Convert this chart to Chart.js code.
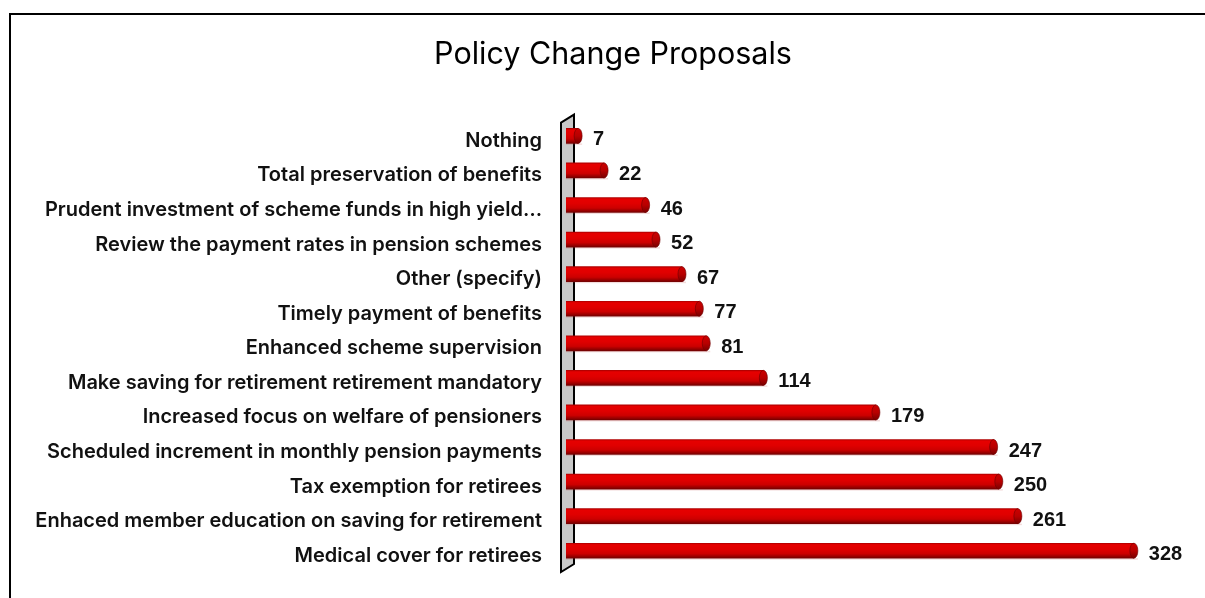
<!DOCTYPE html>
<html>
<head>
<meta charset="utf-8">
<style>
  html, body { margin: 0; padding: 0; background: #ffffff; }
  #wrap { width: 1205px; height: 598px; position: relative; }
</style>
<script src="https://cdn.jsdelivr.net/npm/chart.js@4.4.1/dist/chart.umd.min.js"></script>
</head>
<body>
<div id="wrap"><canvas id="chart" width="1205" height="598"></canvas></div>
<script>
// Responses, listed top to bottom as they appear on the chart
const categories = [
  "Nothing",
  "Total preservation of benefits",
  "Prudent investment of scheme funds in high yield…",
  "Review the payment rates in pension schemes",
  "Other (specify)",
  "Timely payment of benefits",
  "Enhanced scheme supervision",
  "Make saving for retirement retirement mandatory",
  "Increased focus on welfare of pensioners",
  "Scheduled increment in monthly pension payments",
  "Tax exemption for retirees",
  "Enhaced member education on saving for retirement",
  "Medical cover for retirees"
];
const counts = [7, 22, 46, 52, 67, 77, 81, 114, 179, 247, 250, 261, 328];
const chartTitle = "Policy Change Proposals";

const LABEL_FONT = "Inter, 'Open Sans', 'Liberation Sans', sans-serif";
const VALUE_FONT = "'Liberation Sans', Arial, sans-serif";

// Cylinder shading across the bar thickness
function cylinderGradient(ctx, top, bottom) {
  const g = ctx.createLinearGradient(0, top, 0, bottom);
  g.addColorStop(0.00, '#b00000');
  g.addColorStop(0.10, '#e60000');
  g.addColorStop(0.40, '#e00000');
  g.addColorStop(0.70, '#cc0000');
  g.addColorStop(0.90, '#940000');
  g.addColorStop(1.00, '#700000');
  return g;
}

// Frame around the chart
const framePlugin = {
  id: 'frame',
  afterDraw(chart) {
    const ctx = chart.ctx;
    ctx.save();
    ctx.strokeStyle = '#000000';
    ctx.lineWidth = 2;
    ctx.beginPath();
    ctx.moveTo(10, 620);
    ctx.lineTo(10, 14);
    ctx.lineTo(1230, 14);
    ctx.stroke();
    ctx.restore();
  }
};

// Thin 3D back wall standing behind the bar bases
const wallPlugin = {
  id: 'wall',
  beforeDatasetsDraw(chart) {
    const { ctx, chartArea } = chart;
    const x0 = chart.scales.x.getPixelForValue(0);
    const left = x0 - 5, right = x0 + 8, skew = 4;
    ctx.save();
    ctx.beginPath();
    ctx.moveTo(left, chartArea.top + skew);
    ctx.lineTo(right, chartArea.top - skew);
    ctx.lineTo(right, chartArea.bottom - skew);
    ctx.lineTo(left, chartArea.bottom + skew);
    ctx.closePath();
    ctx.fillStyle = '#c8c8c8';
    ctx.fill();
    ctx.strokeStyle = '#000000';
    ctx.lineWidth = 2;
    ctx.lineJoin = 'miter';
    ctx.stroke();
    ctx.restore();
  }
};

// End caps for the cylinders and the value labels beside them
const capsPlugin = {
  id: 'caps',
  afterDatasetsDraw(chart) {
    const ctx = chart.ctx;
    const meta = chart.getDatasetMeta(0);
    ctx.save();
    meta.data.forEach((bar, i) => {
      const h = bar.height;
      const top = bar.y - h / 2, bottom = bar.y + h / 2;
      const rx = 4;
      // faint shadow line under the bar
      ctx.fillStyle = 'rgba(190, 60, 60, 0.18)';
      ctx.fillRect(bar.base, bottom, bar.x - bar.base + rx, 1.5);
      // cap face
      ctx.beginPath();
      ctx.ellipse(bar.x, bar.y, rx, h / 2, 0, 0, Math.PI * 2);
      const g = ctx.createLinearGradient(0, top, 0, bottom);
      g.addColorStop(0, '#cc0000');
      g.addColorStop(0.5, '#b80000');
      g.addColorStop(1, '#7a0000');
      ctx.fillStyle = g;
      ctx.fill();
      ctx.strokeStyle = 'rgba(110, 0, 0, 0.8)';
      ctx.lineWidth = 0.8;
      ctx.stroke();
      // value label
      ctx.fillStyle = '#111111';
      ctx.font = "bold 20px " + VALUE_FONT;
      ctx.textAlign = 'left';
      ctx.textBaseline = 'middle';
      ctx.fillText(String(counts[i]), bar.x + rx + 11, bar.y + 4);
    });
    ctx.restore();
  }
};

const chart = new Chart(document.getElementById('chart'), {
  type: 'bar',
  data: {
    labels: categories,
    datasets: [{
      data: counts,
      barThickness: 15,
      borderWidth: 0,
      borderSkipped: false,
      backgroundColor(context) {
        const c = context.chart;
        const yScale = c.scales.y;
        if (!yScale || !c.chartArea) return '#cc0000';
        const yc = yScale.getPixelForValue(context.dataIndex);
        return cylinderGradient(c.ctx, yc - 7.5, yc + 7.5);
      }
    }]
  },
  options: {
    indexAxis: 'y',
    responsive: false,
    animation: false,
    devicePixelRatio: 1,
    layout: { padding: { left: 35, right: 14, top: 20, bottom: 30 } },
    scales: {
      x: {
        display: false,
        min: 0,
        max: 361
      },
      y: {
        afterFit(axis) {
          axis.width = 531;
          // the label gap is horizontal only; keep it out of the vertical extent
          axis.paddingTop = 0;
          axis.paddingBottom = 0;
        },
        grid: { display: false, drawTicks: false },
        border: { display: false },
        ticks: {
          padding: 24,
          labelOffset: 5,
          color: '#111111',
          font: { family: LABEL_FONT, size: 20, weight: '600' }
        }
      }
    },
    plugins: {
      legend: { display: false },
      tooltip: { enabled: false },
      title: {
        display: true,
        text: chartTitle,
        color: '#000000',
        font: { family: LABEL_FONT, size: 30.5, weight: '400' },
        padding: { top: 17, bottom: 45 }
      }
    }
  },
  plugins: [framePlugin, wallPlugin, capsPlugin]
});
</script>
</body>
</html>
